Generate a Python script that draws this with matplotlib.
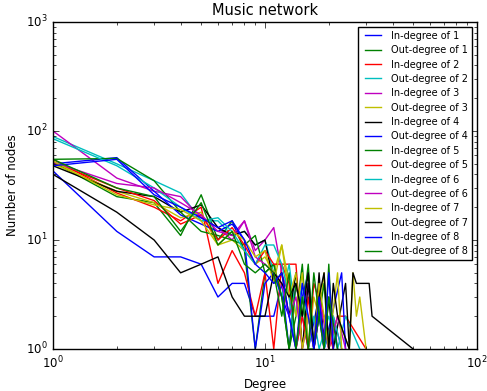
import matplotlib
matplotlib.use("Agg")
import matplotlib.pyplot as plt

plt.style.use('classic')

labels = ['In-degree of 1', 'Out-degree of 1', 'In-degree of 2', 'Out-degree of 2',
          'In-degree of 3', 'Out-degree of 3', 'In-degree of 4', 'Out-degree of 4',
          'In-degree of 5', 'Out-degree of 5', 'In-degree of 6', 'Out-degree of 6',
          'In-degree of 7', 'Out-degree of 7', 'In-degree of 8', 'Out-degree of 8']

# degree -> number of nodes, one dict per series
in1 = {1: 43, 2: 12, 3: 7, 4: 7, 5: 6, 6: 3, 7: 4, 8: 4, 9: 2, 10: 2, 11: 2, 12: 4,
       13: 1, 14: 4, 15: 2, 16: 1, 18: 3, 19: 1, 21: 2, 22: 1}
out1 = {1: 52, 2: 25, 3: 22, 4: 11, 5: 26, 6: 10, 7: 15, 8: 8, 9: 1, 10: 5, 11: 6, 12: 3,
        13: 1, 14: 2, 15: 6, 16: 1, 17: 1, 18: 3, 19: 1, 20: 6, 21: 1}
in2 = {1: 55, 2: 27, 3: 20, 4: 15, 5: 20, 6: 4, 7: 8, 8: 5, 9: 2, 10: 5, 11: 1, 12: 6,
       13: 6, 14: 6, 15: 1, 16: 3, 17: 1, 18: 2, 19: 2, 20: 1, 22: 2, 24: 2, 30: 1}
out2 = {1: 89, 2: 50, 3: 35, 4: 27, 5: 15, 6: 15, 7: 11, 8: 12, 9: 9, 10: 10, 11: 5, 12: 3,
        13: 6, 14: 2, 15: 4, 16: 1, 17: 2, 18: 1, 20: 2, 22: 1, 24: 2, 28: 1}
in3 = {1: 100, 2: 37, 3: 28, 4: 25, 5: 16, 6: 13, 7: 10, 8: 15, 9: 8, 10: 10, 11: 13, 12: 5,
       13: 3, 14: 1, 15: 2, 16: 4, 17: 1, 18: 2, 20: 1, 21: 2, 23: 1}
out3 = {1: 50, 2: 28, 3: 22, 4: 16, 5: 18, 6: 9, 7: 10, 8: 8, 9: 6, 10: 7, 11: 5, 12: 9,
        13: 4, 14: 2, 15: 5, 16: 1, 17: 3, 18: 2, 19: 5, 20: 1, 22: 2, 25: 1, 26: 5, 27: 2,
        28: 3, 30: 1}
in4 = {1: 48, 2: 28, 3: 25, 4: 18, 5: 21, 6: 13, 7: 11, 8: 12, 9: 9, 10: 10, 11: 4, 12: 5,
       13: 2, 14: 5, 15: 1, 16: 4, 17: 1, 18: 5, 19: 1, 20: 3, 21: 1, 24: 4, 25: 1}
out4 = {1: 50, 2: 57, 3: 28, 4: 17, 5: 14, 6: 12, 7: 14, 8: 10, 9: 1, 10: 4, 11: 5, 12: 3,
        13: 2, 14: 1, 15: 3, 16: 5, 17: 1, 18: 2, 19: 1, 23: 5, 24: 1}
in5 = {1: 55, 2: 56, 3: 35, 4: 18, 5: 12, 6: 11, 7: 10, 8: 9, 9: 11, 10: 5, 11: 6, 12: 3,
       13: 1, 14: 4, 15: 2, 16: 6, 17: 1, 18: 2, 19: 4, 20: 1}
out5 = {1: 52, 2: 30, 3: 23, 4: 14, 5: 17, 6: 10, 7: 13, 8: 9, 9: 6, 10: 8, 11: 6, 12: 6,
        13: 4, 14: 1, 15: 2, 16: 1, 17: 4, 19: 2, 21: 1}
in6 = {1: 85, 2: 48, 3: 30, 4: 20, 5: 15, 6: 16, 7: 12, 8: 8, 9: 6, 10: 9, 11: 9, 12: 6,
       13: 3, 14: 1, 15: 3, 16: 2, 17: 1, 18: 3, 19: 1, 21: 2, 23: 1}
out6 = {1: 52, 2: 33, 3: 30, 4: 22, 5: 17, 6: 12, 7: 11, 8: 15, 9: 7, 10: 6, 11: 5, 12: 4,
        13: 2, 14: 3, 15: 1, 16: 2, 17: 1, 18: 3, 20: 1, 22: 2, 24: 1}
in7 = {1: 53, 2: 26, 3: 21, 4: 19, 5: 15, 6: 9, 7: 12, 8: 10, 9: 7, 10: 8, 11: 4, 12: 9,
       13: 3, 14: 5, 15: 1, 16: 2, 17: 1, 18: 4, 19: 2, 20: 1, 22: 5, 23: 1}
out7 = {1: 40, 2: 18, 3: 10, 4: 5, 5: 6, 6: 7, 7: 3, 8: 2, 9: 2, 10: 2, 11: 5, 12: 4,
        13: 3, 14: 4, 15: 2, 16: 5, 17: 1, 18: 3, 19: 5, 20: 1, 21: 4, 22: 2, 25: 1,
        26: 5, 27: 4, 31: 4, 32: 2, 50: 1}
in8 = {1: 48, 2: 55, 3: 26, 4: 20, 5: 16, 6: 13, 7: 15, 8: 10, 9: 6, 10: 5, 11: 4, 12: 5,
       13: 2, 14: 1, 15: 4, 16: 2, 17: 1, 18: 3, 19: 1, 20: 5, 21: 1}
out8 = {1: 55, 2: 30, 3: 25, 4: 12, 5: 22, 6: 9, 7: 12, 8: 6, 9: 5, 10: 6, 11: 5, 12: 2,
        13: 5, 14: 1, 15: 3, 16: 1, 17: 5, 18: 2, 19: 1, 20: 3, 22: 1}

series = [in1, out1, in2, out2, in3, out3, in4, out4,
          in5, out5, in6, out6, in7, out7, in8, out8]

fig = plt.figure(figsize=(4.87, 3.91), dpi=100, facecolor='white')
ax = fig.add_axes([0.1088, 0.1074, 0.8706, 0.8363])

for d, lab in zip(series, labels):
    ax.loglog(list(d.keys()), list(d.values()), label=lab, linewidth=1.0)

ax.set_xlim(1, 100)
ax.set_ylim(1, 1000)
ax.set_title('Music network', fontsize=10.5)
ax.set_xlabel('Degree', fontsize=8.5)
ax.set_ylabel('Number of nodes', fontsize=8.5)
ax.tick_params(labelsize=8.5)
ax.legend(loc='upper right', fontsize=7, labelspacing=0.45, handlelength=2.2)

fig.savefig('out.png', dpi=100, facecolor='white')
